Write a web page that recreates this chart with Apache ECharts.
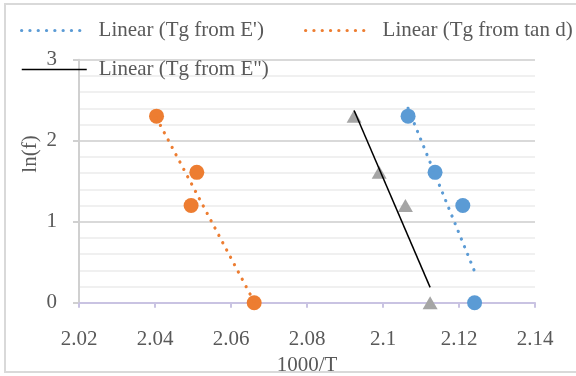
<!DOCTYPE html>
<html>
<head>
<meta charset="utf-8">
<script src="https://cdn.jsdelivr.net/npm/echarts@6/dist/echarts.min.js"></script>
<style>
  html, body { margin: 0; padding: 0; background: #ffffff; }
  #chart { width: 576px; height: 376px; }
</style>
</head>
<body>
<div id="chart"></div>
<script>
// ln(f) for the four test frequencies
const lnF = [2.303, 1.609, 1.2, 0];
// 1000/T at the glass transition, per method
const invT_storage = [2.1066, 2.1137, 2.1210, 2.1241]; // Tg from E'
const invT_tanD    = [2.0404, 2.0510, 2.0495, 2.0661]; // Tg from tan d
const invT_loss    = [2.0924, 2.0990, 2.1059, 2.1124]; // Tg from E"

// axis ticks
const xTicks = [2.02, 2.04, 2.06, 2.08, 2.10, 2.12, 2.14];
const yTicks = [0, 1, 2, 3];

const seriesNames = ["Tg from E'", "Tg from tan d", 'Tg from E"'];
const trendNames = seriesNames.map(n => 'Linear (' + n + ')');
const colors = ['#5b9bd5', '#ed7d31', '#a5a5a5'];

// least-squares fit of ln(f) on 1000/T, spanning the data's x range
function linearTrend(xs, ys) {
  const n = xs.length;
  const mx = xs.reduce((a, b) => a + b, 0) / n;
  const my = ys.reduce((a, b) => a + b, 0) / n;
  let sxy = 0, sxx = 0;
  for (let i = 0; i < n; i++) {
    sxy += (xs[i] - mx) * (ys[i] - my);
    sxx += (xs[i] - mx) * (xs[i] - mx);
  }
  const slope = sxy / sxx;
  const x0 = Math.min(...xs), x1 = Math.max(...xs);
  return [[x0, my + slope * (x0 - mx)], [x1, my + slope * (x1 - mx)]];
}

const pairs = xs => xs.map((x, i) => [x, lnF[i]]);

const textColor = '#595959';
const font = 'Liberation Serif';
const fs = 21;

const dotted = color => ({ color: color, width: 3.2, type: [0.1, 8.2], cap: 'round' });
const solidBlack = { color: '#000000', width: 1.5, type: 'solid' };

function legendFor(name, left, top, lineStyle) {
  return {
    orient: 'horizontal',
    left: left, top: top,
    padding: 0,
    itemWidth: 65,
    itemHeight: 14,
    itemStyle: { opacity: 0 },
    lineStyle: lineStyle,
    textStyle: { color: textColor, fontFamily: font, fontSize: fs, padding: [0, 0, 0, 7] },
    data: [name]
  };
}

const chart = echarts.init(document.getElementById('chart'), null, { renderer: 'canvas' });
chart.setOption({
  animation: false,
  backgroundColor: '#ffffff',
  graphic: [
    {
      type: 'rect', z: -10,
      shape: { x: 5, y: 4, width: 620, height: 368 },
      style: { fill: 'none', stroke: '#d9d9d9', lineWidth: 2 }
    },
    {
      type: 'text', x: 30.5, y: 154, rotation: Math.PI / 2,
      style: {
        text: 'ln(f)', fill: textColor, font: fs + 'px "' + font + '"',
        textAlign: 'center', textVerticalAlign: 'middle'
      }
    }
  ],
  legend: [
    legendFor(trendNames[0], 20, 20, dotted(colors[0])),
    legendFor(trendNames[1], 304, 20, dotted(colors[1])),
    legendFor(trendNames[2], 21, 59, solidBlack)
  ],
  grid: { left: 79, right: 41, top: 59.7, bottom: 73.3, containLabel: false, outerBoundsMode: 'none' },
  xAxis: {
    type: 'value',
    min: xTicks[0], max: xTicks[xTicks.length - 1], interval: 0.02,
    name: '1000/T', nameLocation: 'middle', nameGap: 44,
    nameTextStyle: { color: textColor, fontFamily: font, fontSize: fs },
    axisLine: { onZero: true, lineStyle: { color: '#c9c3e2', width: 2 } },
    axisTick: { show: true, inside: false, length: 5, lineStyle: { color: '#c9c3e2', width: 2 } },
    axisLabel: {
      color: textColor, fontFamily: font, fontSize: fs, margin: 26,
      formatter: v => String(+v.toFixed(2))
    },
    splitLine: { show: false, lineStyle: { color: 'rgba(0,0,0,0)' } },
    minorSplitLine: { show: false },
    splitArea: { show: false }
  },
  yAxis: {
    type: 'value',
    min: yTicks[0], max: yTicks[yTicks.length - 1], interval: 1,
    axisLine: { show: true, lineStyle: { color: '#d0d0d0', width: 2 } },
    axisTick: { show: true, length: 6, lineStyle: { color: '#d0d0d0', width: 2 } },
    axisLabel: { color: textColor, fontFamily: font, fontSize: fs, margin: 22 },
    splitLine: { show: true, lineStyle: { color: '#d9d9d9', width: 2 } },
    minorTick: { show: false, splitNumber: 5 },
    minorSplitLine: { show: true, lineStyle: { color: '#f0f0f0', width: 2 } }
  },
  series: [
    {
      name: seriesNames[0], type: 'scatter', data: pairs(invT_storage),
      symbol: 'circle', symbolSize: 15, itemStyle: { color: colors[0], opacity: 1 }, z: 2
    },
    {
      name: seriesNames[1], type: 'scatter', data: pairs(invT_tanD),
      symbol: 'circle', symbolSize: 15, itemStyle: { color: colors[1], opacity: 1 }, z: 2
    },
    {
      name: seriesNames[2], type: 'scatter', data: pairs(invT_loss),
      symbol: 'triangle', symbolSize: [15, 13], itemStyle: { color: colors[2], opacity: 1 }, z: 2
    },
    {
      name: trendNames[0], type: 'line', data: linearTrend(invT_storage, lnF),
      symbol: 'none', lineStyle: dotted(colors[0]), itemStyle: { color: colors[0] }, z: 3
    },
    {
      name: trendNames[1], type: 'line', data: linearTrend(invT_tanD, lnF),
      symbol: 'none', lineStyle: dotted(colors[1]), itemStyle: { color: colors[1] }, z: 3
    },
    {
      name: trendNames[2], type: 'line', data: linearTrend(invT_loss, lnF),
      symbol: 'none', lineStyle: solidBlack,
      itemStyle: { color: '#000000' }, z: 3
    }
  ]
});
</script>
</body>
</html>
